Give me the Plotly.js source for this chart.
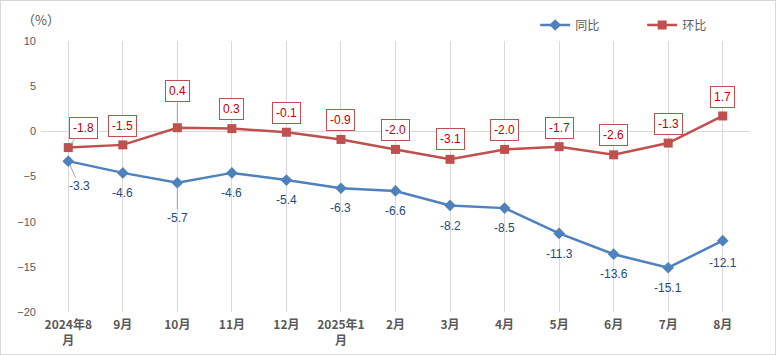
<!DOCTYPE html>
<html><head><meta charset="utf-8">
<script src="https://cdn.plot.ly/plotly-3.0.1.min.js"></script>
<style>html,body{margin:0;padding:0;background:#fff}#wrap{position:relative;width:776px;height:355px}#frame{position:absolute;left:0;top:0;width:776px;height:355px;box-sizing:border-box;border:1px solid #D9D9D9;pointer-events:none}</style>
</head><body>
<div id="wrap"><div id="chart" style="width:776px;height:355px"></div><div id="frame"></div></div>
<script>
const categories = ['2024年8<br>月','9月','10月','11月','12月','2025年1<br>月','2月','3月','4月','5月','6月','7月','8月'];
const yoyValues = [-3.3,-4.6,-5.7,-4.6,-5.4,-6.3,-6.6,-8.2,-8.5,-11.3,-13.6,-15.1,-12.1];
const momValues = [-1.8,-1.5,0.4,0.3,-0.1,-0.9,-2.0,-3.1,-2.0,-1.7,-2.6,-1.3,1.7];
const yTicks = [10,5,0,-5,-10,-15,-20];

// label offsets (pixels) and leader-line flags
const momOff = [[15,-20,1],[0,-19,0],[0,-37,1],[0,-20,0],[0,-19,0],[0,-19,0],[0,-19,0],[0,-20,0],[0,-19,0],[0,-19,0],[0,-20,0],[0,-19,0],[0,-19,0]];
const yoyOff = [[11,25,1],[0,20,0],[0,35,1],[0,20,0],[0,20,0],[0,20,0],[0,20,0],[0,21,0],[0,20,0],[0,21,0],[0,20,0],[0,20,0],[0,22,0]];

const xs = categories.map((c,i)=>i);
const numFont = 'Liberation Sans, Arial, sans-serif';
const cjkFont = 'Noto Sans CJK SC, sans-serif';

const traces = [
  {x: xs, y: yoyValues, name: '同比', type: 'scatter', mode: 'lines+markers',
   line: {color: '#4F81BD', width: 2.5}, marker: {symbol: 'diamond', size: 9, color: '#4F81BD'}},
  {x: xs, y: momValues, name: '环比', type: 'scatter', mode: 'lines+markers',
   line: {color: '#C0504D', width: 2.5}, marker: {symbol: 'square', size: 9, color: '#C0504D'}}
];

const annotations = [];
momValues.forEach((v,i)=>{
  const o = momOff[i];
  annotations.push({x: i, y: v, xref: 'x', yref: 'y', text: v.toFixed(1),
    showarrow: true, ax: o[0], ay: o[1], arrowhead: 0, arrowwidth: 1,
    arrowcolor: o[2] ? '#A6A6A6' : 'rgba(0,0,0,0)', standoff: 4,
    font: {family: numFont, size: 12, color: '#C00000'},
    bordercolor: '#C0504D', borderwidth: 1, borderpad: 3, bgcolor: '#FFFFFF'});
});
yoyValues.forEach((v,i)=>{
  const o = yoyOff[i];
  annotations.push({x: i, y: v, xref: 'x', yref: 'y', text: v.toFixed(1),
    showarrow: true, ax: o[0], ay: o[1], arrowhead: 0, arrowwidth: 1,
    arrowcolor: o[2] ? '#A6A6A6' : 'rgba(0,0,0,0)', standoff: 4,
    font: {family: numFont, size: 12, color: '#1F497D'}});
});
annotations.push({xref: 'paper', yref: 'paper', x: (41-41)/709, y: (312-20)/271, xanchor: 'center', yanchor: 'middle',
  text: '（%）', showarrow: false, font: {family: cjkFont, size: 13, color: '#595959'}});

const layout = {
  width: 776, height: 355,
  margin: {l: 41, r: 26, t: 41, b: 43, autoexpand: false},
  paper_bgcolor: '#FFFFFF', plot_bgcolor: '#FFFFFF',
  showlegend: true,
  legend: {orientation: 'h', x: 0.697, y: (312-25)/271, xanchor: 'left', yanchor: 'middle',
    font: {family: cjkFont, size: 12, color: '#595959'}, itemwidth: 30,
    entrywidth: 62, entrywidthmode: 'pixels', bgcolor: 'rgba(0,0,0,0)'},
  xaxis: {range: [-0.5, 12.5], tickvals: xs, ticktext: categories, tickson: 'boundaries',
    showgrid: true, gridcolor: '#D9D9D9', gridwidth: 1, zeroline: false, showline: false, ticks: '',
    ticklabelstandoff: 4,
    tickfont: {family: cjkFont, size: 12, color: '#595959', weight: 'bold'}, fixedrange: true},
  yaxis: {range: [-20, 10], tickvals: yTicks, showgrid: false, zeroline: true, zerolinecolor: '#D9D9D9', zerolinewidth: 1,
    showline: false, ticks: '', ticklabelstandoff: 4,
    tickfont: {family: numFont, size: 11, color: '#595959'}, fixedrange: true},
  annotations: annotations
};
Plotly.newPlot('chart', traces, layout, {displayModeBar: false, staticPlot: true});
</script>
</body></html>
